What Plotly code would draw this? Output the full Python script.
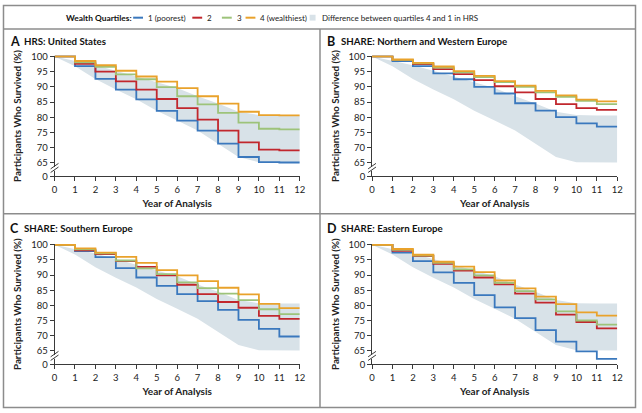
import plotly.graph_objects as go

# Kaplan-Meier style survival (%) by wealth quartile, one value per year interval [k, k+1)
years = list(range(13))

us_q1 = [100, 96.8, 92.6, 89.1, 85.9, 82.1, 78.9, 75.6, 71.3, 66.9, 65.2, 65.1]
us_q2 = [100, 97.6, 95.0, 91.8, 89.1, 86.0, 83.0, 79.2, 75.6, 71.7, 69.3, 69.1]
us_q3 = [100, 98.1, 96.6, 94.1, 92.5, 89.9, 86.9, 84.2, 81.4, 78.2, 76.2, 76.0]
us_q4 = [100, 98.5, 97.1, 95.3, 93.4, 91.7, 89.6, 86.9, 84.5, 81.8, 80.7, 80.6]

nw_q1 = [100, 98.5, 96.8, 94.4, 92.5, 90.0, 87.8, 84.6, 82.2, 80.0, 78.0, 76.9]
nw_q2 = [100, 98.8, 97.5, 95.8, 94.2, 92.2, 90.2, 88.2, 86.0, 84.3, 83.0, 82.4]
nw_q3 = [100, 98.9, 97.7, 96.3, 94.8, 93.2, 91.6, 90.0, 88.2, 86.7, 85.4, 84.3]
nw_q4 = [100, 99.0, 97.9, 96.7, 95.2, 93.6, 91.9, 90.4, 88.7, 87.2, 85.8, 85.2]

south_q1 = [100, 97.9, 95.9, 92.3, 89.2, 86.4, 83.7, 81.4, 78.5, 75.2, 72.2, 69.7]
south_q2 = [100, 98.2, 96.9, 94.6, 92.7, 89.9, 86.8, 83.7, 81.1, 79.2, 76.5, 75.5]
south_q3 = [100, 98.5, 97.2, 94.8, 92.2, 90.3, 87.6, 85.7, 83.9, 81.7, 78.7, 77.1]
south_q4 = [100, 98.8, 97.4, 96.0, 94.0, 91.6, 89.9, 88.0, 85.8, 83.6, 80.5, 79.1]

east_q1 = [100, 97.4, 94.6, 90.9, 87.4, 83.4, 79.3, 75.8, 71.8, 68.0, 64.8, 62.3]
east_q2 = [100, 98.0, 96.3, 93.7, 91.5, 89.2, 86.9, 83.9, 80.9, 76.9, 74.5, 72.4]
east_q3 = [100, 98.3, 96.4, 94.0, 91.9, 89.9, 87.4, 84.7, 82.0, 78.0, 75.0, 73.6]
east_q4 = [100, 98.6, 96.7, 94.4, 92.8, 91.0, 88.2, 85.6, 82.9, 80.4, 77.7, 76.6]

quartile_names = ["1 (poorest)", "2", "3", "4 (wealthiest)"]
band_name = "Difference between quartiles 4 and 1 in HRS"
y_ticks = [65, 70, 75, 80, 85, 90, 95, 100]
y_floor = 60.5  # position of the "0" tick below the axis break

colors = ["#3a78bd", "#c1272d", "#9dc37a", "#e9a22b"]
band_color = "#d8e2e8"
frame_color = "#8c8c8c"
axis_color = "#3a3a3a"
W, H = 642, 413
FONT = "Lato, Liberation Sans, sans-serif"

panels = [
    ("A", "HRS: United States", [us_q1, us_q2, us_q3, us_q4], (52.3, 301), (51.8, 175.7)),
    ("B", "SHARE: Northern and Western Europe", [nw_q1, nw_q2, nw_q3, nw_q4], (374.3, 623), (51.8, 175.7)),
    ("C", "SHARE: Southern Europe", [south_q1, south_q2, south_q3, south_q4], (52.3, 301), (244.8, 368.3)),
    ("D", "SHARE: Eastern Europe", [east_q1, east_q2, east_q3, east_q4], (374.3, 623), (244.8, 368.3)),
]


def step(vals):
    return vals + [vals[-1]]


fig = go.Figure()
annotations = []
shapes = []

for i, (letter, title, series, (x0, x1), (ytop, ybot)) in enumerate(panels):
    n = "" if i == 0 else str(i + 1)
    xa, ya = "x" + n, "y" + n

    # HRS band: corners of quartile 4 and quartile 1 joined by straight lines
    upper = step(us_q4)
    lower = step(us_q1)
    fig.add_trace(go.Scatter(
        x=years + years[::-1], y=upper + lower[::-1], fill="toself",
        fillcolor=band_color, line=dict(width=0), mode="lines",
        hoverinfo="skip", showlegend=False, xaxis=xa, yaxis=ya))

    for name, vals, c in zip(quartile_names, series, colors):
        fig.add_trace(go.Scatter(
            x=years, y=step(vals), mode="lines", line=dict(color=c, width=1.8, shape="hv"),
            name=name, showlegend=False, xaxis=xa, yaxis=ya))

    axis_common = dict(showline=True, linecolor=axis_color, linewidth=1, ticks="outside",
                       ticklen=4, tickcolor=axis_color, showgrid=False, zeroline=False,
                       tickfont=dict(family=FONT, size=9.5, color="#222"))
    fig.update_layout(**{
        ("xaxis" + n): dict(axis_common, domain=[x0 / W, x1 / W], range=[0, 12], tickvals=years,
                             anchor=ya,
                             title=dict(text="<b>Year of Analysis</b>", standoff=6,
                                        font=dict(family=FONT, size=10, color="#222"))),
        ("yaxis" + n): dict(axis_common, domain=[1 - ybot / H, 1 - ytop / H], range=[y_floor, 100.3],
                             tickvals=[y_floor] + y_ticks, ticktext=["0"] + [str(t) for t in y_ticks],
                             anchor=xa,
                             title=dict(text="<b>Participants Who Survived (%)</b>", standoff=7,
                                        font=dict(family=FONT, size=9.8, color="#222"))),
    })

    # axis break marks
    dref = xa + " domain"
    shapes.append(dict(type="rect", xref=dref, yref=ya, x0=-0.01, x1=0.01, y0=62.4, y1=63.6,
                       fillcolor="white", line=dict(width=0), layer="above"))
    for yb in (61.8, 63.0):
        shapes.append(dict(type="line", xref=dref, yref=ya, x0=-0.016, x1=0.016,
                           y0=yb, y1=yb + 1.8, line=dict(color=axis_color, width=1), layer="above"))

    # panel title
    px_left = 0 if x0 < 300 else 322
    py = 37 if ytop < 100 else 229
    annotations.append(dict(text="<b>" + letter + "</b>", x=(px_left + 5) / W, y=1 - py / H,
                            xref="paper", yref="paper", xanchor="left", yanchor="middle",
                            showarrow=False, font=dict(family=FONT, size=12.5, color="#111")))
    annotations.append(dict(text="<b>" + title + "</b>", x=(px_left + 19) / W, y=1 - py / H,
                            xref="paper", yref="paper", xanchor="left", yanchor="middle",
                            showarrow=False, font=dict(family=FONT, size=9.7, color="#111")))

# legend row
ly = 1 - 13 / H
annotations.append(dict(text="<b>Wealth Quartiles:</b>", x=62 / W, y=ly, xref="paper", yref="paper",
                        xanchor="left", yanchor="middle", showarrow=False,
                        font=dict(family=FONT, size=8.4, color="#111")))
leg_x = [132, 192, 222, 246]
for lx, name, c in zip(leg_x, quartile_names, colors):
    shapes.append(dict(type="line", xref="paper", yref="paper", x0=lx / W, x1=(lx + 10) / W,
                       y0=ly, y1=ly, line=dict(color=c, width=2)))
    annotations.append(dict(text=name, x=(lx + 13) / W, y=ly, xref="paper", yref="paper",
                            xanchor="left", yanchor="middle", showarrow=False,
                            font=dict(family=FONT, size=8, color="#222")))
shapes.append(dict(type="rect", xref="paper", yref="paper", x0=311 / W, x1=317 / W,
                   y0=ly - 3 / H, y1=ly + 3 / H, fillcolor=band_color, line=dict(width=0)))
annotations.append(dict(text=band_name, x=321 / W, y=ly, xref="paper", yref="paper",
                        xanchor="left", yanchor="middle", showarrow=False,
                        font=dict(family=FONT, size=8, color="#222")))

# frame
fl = dict(color=frame_color, width=1.5)
shapes += [
    dict(type="rect", xref="paper", yref="paper", x0=0.5 / W, x1=1 - 0.5 / W, y0=0.5 / H, y1=1 - 0.5 / H, line=fl),
    dict(type="line", xref="paper", yref="paper", x0=0, x1=1, y0=1 - 24.5 / H, y1=1 - 24.5 / H, line=fl),
    dict(type="line", xref="paper", yref="paper", x0=321.5 / W, x1=321.5 / W, y0=0, y1=1 - 24.5 / H, line=fl),
    dict(type="line", xref="paper", yref="paper", x0=0, x1=1, y0=1 - 214 / H, y1=1 - 214 / H, line=fl),
]

fig.update_layout(
    width=W, height=H, margin=dict(l=0, r=0, t=0, b=0),
    paper_bgcolor="white", plot_bgcolor="white",
    showlegend=False, annotations=annotations, shapes=shapes,
)

fig.write_html(
    "out.html",
    config={"displayModeBar": False},
    post_script=(
        "document.documentElement.style.margin='0';document.body.style.margin='0';"
        "document.documentElement.style.overflow='hidden';document.body.style.overflow='hidden';"
        "var gd=document.getElementsByClassName('plotly-graph-div')[0];"
        "gd.style.position='fixed';gd.style.left='0px';gd.style.top='0px';"
    ),
)
